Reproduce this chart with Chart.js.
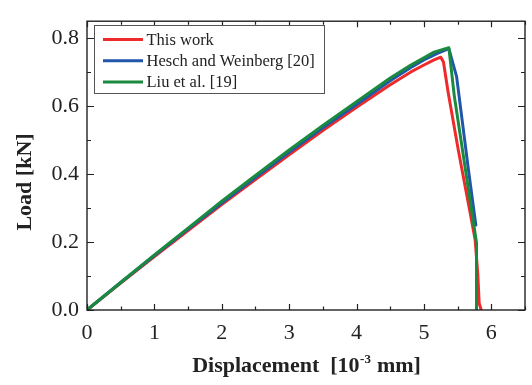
<!DOCTYPE html>
<html lang="en">
<head>
    <meta charset="UTF-8">
    <title>Load vs displacement</title>
    <script src="https://cdn.jsdelivr.net/npm/chart.js"></script>
    <style>
        html, body { margin: 0; padding: 0; background: #fff; }
        #wrap { width: 532px; height: 385px; }
    </style>
</head>
<body>
    <div id="wrap"><canvas id="loadChart"></canvas></div>

    <script>
        // values
        const seriesNames = ['This work', 'Hesch and Weinberg [20]', 'Liu et al. [19]'];

        const redX = [0, 0.5, 1, 1.5, 2, 2.5, 3, 3.5, 4, 4.5, 4.8, 5.0, 5.15, 5.25, 5.29, 5.36, 5.51, 5.68, 5.76, 5.80, 5.82, 5.85];
        const redY = [0, 0.079, 0.157, 0.234, 0.31, 0.384, 0.457, 0.528, 0.597, 0.663, 0.700, 0.721, 0.736, 0.744, 0.730, 0.640, 0.471, 0.292, 0.207, 0.104, 0.02, 0];

        const blueX = [0, 0.5, 1, 1.5, 2, 2.5, 3, 3.5, 4, 4.5, 4.8, 5.0, 5.2, 5.37, 5.485, 5.66, 5.77];
        const blueY = [0, 0.081, 0.16, 0.238, 0.315, 0.39, 0.464, 0.536, 0.605, 0.675, 0.713, 0.736, 0.755, 0.769, 0.687, 0.414, 0.25];

        const greenX = [0, 0.5, 1, 1.5, 2, 2.5, 3, 3.5, 4, 4.5, 4.8, 5.0, 5.15, 5.37, 5.45, 5.63, 5.78, 5.78];
        const greenY = [0, 0.081, 0.162, 0.241, 0.32, 0.396, 0.471, 0.543, 0.613, 0.683, 0.72, 0.742, 0.759, 0.772, 0.631, 0.395, 0.198, 0];

        const xMajor = [0, 1, 2, 3, 4, 5, 6];
        const xMinor = [0.5, 1.5, 2.5, 3.5, 4.5, 5.5, 6.5];
        const yMajor = [0, 0.2, 0.4, 0.6, 0.8];
        const yMinor = [0.1, 0.3, 0.5, 0.7];

        const colors = ['#ee2b2b', '#2256a8', '#1a8a3e'];
        const serif = "'Liberation Serif', 'DejaVu Serif', serif";

        function toPoints(xs, ys) {
            return xs.map((x, i) => ({ x: x, y: ys[i] }));
        }

        // frame with inward ticks on all four sides
        const framePlugin = {
            id: 'frame',
            afterDatasetsDraw(chart) {
                const { ctx, chartArea: a, scales } = chart;
                const sx = scales.x, sy = scales.y;
                ctx.save();
                ctx.strokeStyle = '#222';
                ctx.lineWidth = 1.4;
                ctx.strokeRect(a.left, a.top, a.right - a.left, a.bottom - a.top);
                ctx.lineWidth = 1.2;
                ctx.beginPath();
                const xt = (vals, len) => vals.forEach(v => {
                    const p = Math.round(sx.getPixelForValue(v)) + 0.5;
                    ctx.moveTo(p, a.bottom); ctx.lineTo(p, a.bottom - len);
                    ctx.moveTo(p, a.top); ctx.lineTo(p, a.top + len);
                });
                const yt = (vals, len) => vals.forEach(v => {
                    const p = Math.round(sy.getPixelForValue(v)) + 0.5;
                    ctx.moveTo(a.left, p); ctx.lineTo(a.left + len, p);
                    ctx.moveTo(a.right, p); ctx.lineTo(a.right - len, p);
                });
                xt(xMajor, 6); xt(xMinor, 3.5);
                yt(yMajor, 7); yt(yMinor, 4);
                ctx.stroke();
                ctx.restore();
            }
        };

        // legend box inside the plot and the axis titles
        const labelsPlugin = {
            id: 'labels',
            afterDraw(chart) {
                const ctx = chart.ctx;
                ctx.save();

                // legend
                ctx.fillStyle = '#fff';
                ctx.fillRect(94.5, 25.5, 230, 68);
                ctx.strokeStyle = '#555';
                ctx.lineWidth = 1;
                ctx.strokeRect(94.5, 25.5, 230, 68);
                ctx.font = '16.5px ' + serif;
                ctx.textBaseline = 'middle';
                chart.data.datasets.forEach((ds, i) => {
                    const y = 39.5 + i * 21.2;
                    ctx.strokeStyle = ds.borderColor;
                    ctx.lineWidth = 3;
                    ctx.beginPath();
                    ctx.moveTo(103, y); ctx.lineTo(143, y);
                    ctx.stroke();
                    ctx.fillStyle = '#222';
                    ctx.fillText(ds.label, 146.5, y + 1);
                });

                // y title
                ctx.fillStyle = '#222';
                ctx.font = 'bold 22px ' + serif;
                ctx.textAlign = 'center';
                ctx.textBaseline = 'alphabetic';
                ctx.save();
                ctx.translate(31, 182);
                ctx.rotate(-Math.PI / 2);
                ctx.fillText('Load [kN]', 0, 0);
                ctx.restore();

                // x title with superscript
                const a = chart.chartArea;
                const p1 = 'Displacement  [10', sup = '-3', p2 = ' mm]';
                ctx.textAlign = 'left';
                ctx.font = 'bold 22px ' + serif;
                const w1 = ctx.measureText(p1).width, w3 = ctx.measureText(p2).width;
                ctx.font = 'bold 13px ' + serif;
                const w2 = ctx.measureText(sup).width;
                let x = (a.left + a.right) / 2 - (w1 + w2 + w3) / 2;
                const base = 372;
                ctx.font = 'bold 22px ' + serif;
                ctx.fillText(p1, x, base);
                x += w1;
                ctx.font = 'bold 13px ' + serif;
                ctx.fillText(sup, x + 0.5, base - 9);
                x += w2 + 1;
                ctx.font = 'bold 22px ' + serif;
                ctx.fillText(p2, x, base);
                ctx.restore();
            }
        };

        const lineSeries = [
            { label: seriesNames[0], data: toPoints(redX, redY), borderColor: colors[0], order: 2 },
            { label: seriesNames[1], data: toPoints(blueX, blueY), borderColor: colors[1], order: 1 },
            { label: seriesNames[2], data: toPoints(greenX, greenY), borderColor: colors[2], order: 0 }
        ].map(ds => Object.assign(ds, {
            showLine: true,
            borderWidth: 3,
            pointRadius: 0,
            tension: 0,
            fill: false,
            borderJoinStyle: 'round',
            borderCapStyle: 'round'
        }));

        new Chart(document.getElementById('loadChart'), {
            type: 'scatter',
            data: { datasets: lineSeries },
            options: {
                responsive: true,
                maintainAspectRatio: false,
                animation: false,
                layout: { padding: { top: 9, right: 7, left: 0, bottom: 0 } },
                plugins: {
                    legend: { display: false },
                    tooltip: { enabled: false }
                },
                scales: {
                    x: {
                        type: 'linear',
                        min: 0,
                        max: 6.5,
                        grid: { display: false, drawTicks: false },
                        border: { display: false },
                        afterBuildTicks: s => { s.ticks = xMajor.map(v => ({ value: v })); },
                        afterFit: s => { s.height = 75; },
                        ticks: {
                            padding: 10,
                            color: '#222',
                            font: { family: serif, size: 22 },
                            callback: v => String(v)
                        }
                    },
                    y: {
                        min: 0,
                        max: 0.85,
                        grid: { display: false, drawTicks: false },
                        border: { display: false },
                        afterBuildTicks: s => { s.ticks = yMajor.map(v => ({ value: v })); },
                        afterFit: s => { s.width = 87; },
                        ticks: {
                            padding: 8,
                            color: '#222',
                            font: { family: serif, size: 22 },
                            callback: v => v.toFixed(1)
                        }
                    }
                }
            },
            plugins: [framePlugin, labelsPlugin]
        });
    </script>
</body>
</html>
